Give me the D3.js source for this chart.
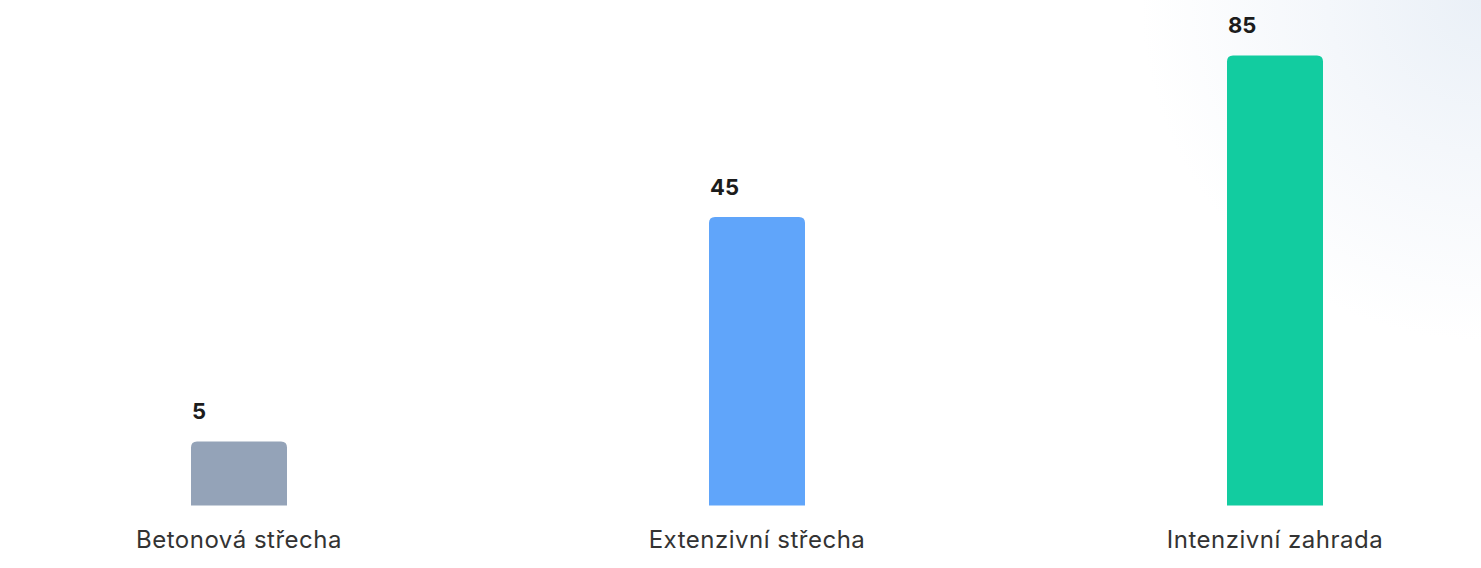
<!DOCTYPE html>
<html>
<head>
<meta charset="utf-8">
<script src="https://cdn.jsdelivr.net/npm/d3@7"></script>
<style>
  html, body { margin: 0; padding: 0; background: #fff; }
  svg { display: block; }
</style>
</head>
<body>
<svg id="chart" width="1481" height="568"></svg>
<script>
// ---- data ----
const categories = ["Betonová střecha", "Extenzivní střecha", "Intenzivní zahrada"];
const values = [5, 45, 85];                 // printed value labels
const barHeights = [14.2, 64.1, 100];       // visual bar height (% of tallest)
const colors = ["#94a3b8", "#60a5fa", "#12cca0"];

// ---- layout ----
const W = 1481, H = 568;
const baseY = 505.5, topY = 55.5;
const barW = 96;

const svg = d3.select("#chart");

// faint top-right background glow
const defs = svg.append("defs");
const rg = defs.append("radialGradient").attr("id", "glow")
  .attr("gradientUnits", "userSpaceOnUse")
  .attr("cx", W).attr("cy", 0).attr("r", 340);
rg.append("stop").attr("offset", "0%").attr("stop-color", "#eaf0f7");
rg.append("stop").attr("offset", "45%").attr("stop-color", "#f4f7fb");
rg.append("stop").attr("offset", "100%").attr("stop-color", "#ffffff");
svg.append("rect").attr("width", W).attr("height", H).attr("fill", "#fff");
svg.append("rect").attr("x", 0).attr("y", 0).attr("width", W).attr("height", H)
  .attr("fill", "url(#glow)");

const x = d3.scalePoint().domain(categories).range([-20, 1534]).padding(0.5);
const y = d3.scaleLinear().domain([0, 100]).range([baseY, topY]);

const r = 6;
function topRounded(x0, y0, w, h) {
  const rr = Math.min(r, h);
  return `M${x0},${y0 + h}V${y0 + rr}Q${x0},${y0} ${x0 + rr},${y0}H${x0 + w - rr}Q${x0 + w},${y0} ${x0 + w},${y0 + rr}V${y0 + h}Z`;
}

const data = categories.map((c, i) => ({ c, v: values[i], h: barHeights[i], col: colors[i] }));

const g = svg.append("g");
g.selectAll("path.bar").data(data).enter().append("path")
  .attr("class", "bar")
  .attr("d", d => topRounded(x(d.c) - barW / 2, y(d.h), barW, baseY - y(d.h)))
  .attr("fill", d => d.col);

g.selectAll("text.val").data(data).enter().append("text")
  .attr("class", "val")
  .attr("x", d => x(d.c) - barW / 2 + 1)
  .attr("y", d => y(d.h) - 22.5)
  .attr("font-family", "Inter, 'Noto Sans', sans-serif")
  .attr("font-weight", 700)
  .attr("font-size", 22)
  .attr("fill", "#1c1c1c")
  .text(d => d.v);

g.selectAll("text.cat").data(data).enter().append("text")
  .attr("class", "cat")
  .attr("x", d => x(d.c))
  .attr("y", baseY + 42)
  .attr("text-anchor", "middle")
  .attr("font-family", "Inter, 'Noto Sans', sans-serif")
  .attr("font-weight", 400)
  .attr("font-size", 24)
  .attr("letter-spacing", 0.5)
  .attr("fill", "#333333")
  .text(d => d.c);
</script>
</body>
</html>
